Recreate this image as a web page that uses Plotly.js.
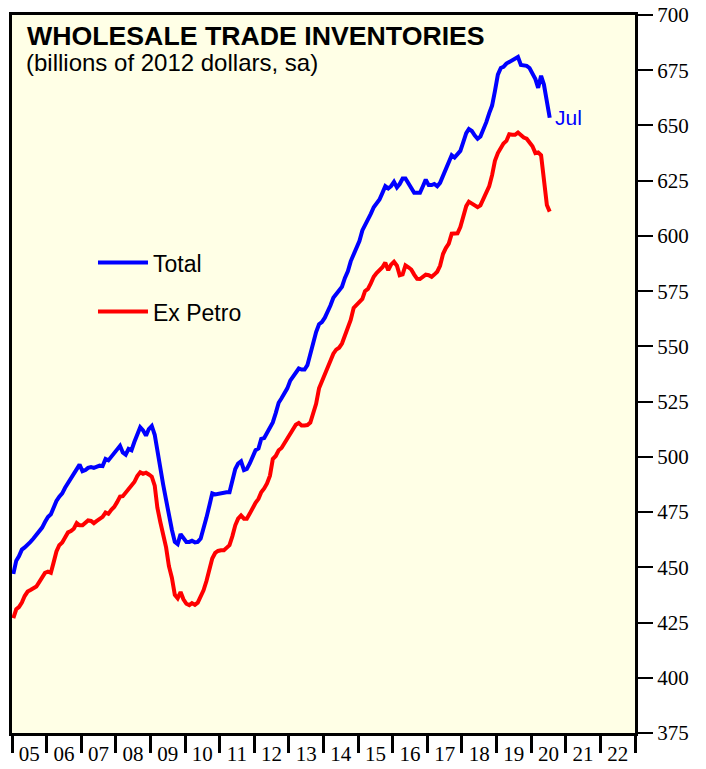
<!DOCTYPE html>
<html>
<head>
<meta charset="utf-8">
<script src="https://cdn.plot.ly/plotly-3.0.1.min.js"></script>
<style>
html,body{margin:0;padding:0;background:#fff;}
#chart{width:706px;height:769px;}
</style>
</head>
<body>
<div id="chart"></div>
<script>
// Monthly data, Jan 2005 .. Jul 2020 (billions of 2012 dollars, sa)
const startYear = 2005;
const startMonth = 1;
const totalValues = [
  447, 453, 455, 458, 459, 460, 461.5, 463, 464.5, 466, 468, 470.5,
  472.8, 474, 477, 480, 482, 483.5, 486, 488, 490.5, 492.5, 494, 496.5,
  493.5, 494, 495, 495.4, 495, 495.5, 496, 495.8, 499, 498.4, 500, 502,
  503.5, 505, 502, 501, 503.6, 503, 506.7, 510, 513.4, 512, 509.6, 512.6,
  514, 510, 502, 494, 487.5, 480.5, 473, 467, 461.5, 460.5, 465, 463,
  461.5, 461.5, 462, 461.3, 461.5, 463, 467, 472.5, 478, 483.5, 483, 483.3,
  483.5, 484, 484, 484, 489.5, 494.5, 497, 498, 494, 494.5, 497, 500.5,
  503, 503.8, 508.1, 508.5, 511, 512.8, 515.6, 519.8, 524.5, 526.5, 529, 531,
  534.5, 536.3, 537.5, 540, 539.5, 539.5, 541.5, 547, 551.5, 556.5, 560, 561,
  563, 565.5, 568.5, 572, 573.5, 575, 577, 581, 584, 588.5, 592, 595,
  597.7, 602.5, 604.8, 607, 610, 613, 614.5, 616.5, 619.5, 622.5, 621.5, 622.5,
  624.5, 622, 623.5, 626, 626, 624, 622, 619.5, 619.5, 619.5, 622.5, 625.5,
  623, 623, 623.5, 622.5, 624, 627, 630, 632.5, 636.5, 635.5, 637, 638.5,
  642.5, 646.5, 648.4, 647.5, 645.5, 644, 645, 648, 651.5, 655.5, 659, 665.5,
  673, 676, 676.5, 678, 678.7, 679.6, 680.5, 681, 677.4, 677.2, 677, 676,
  673.5, 671, 667, 672.5, 668.5, 661, 653.5
];
const exPetroValues = [
  427, 431, 432, 434, 437, 439, 439.7, 440.5, 441.3, 443.3, 445.3, 447.5,
  448, 447.5, 452, 457.2, 460, 461.2, 463.5, 465.8, 466.4, 467.5, 470, 469,
  469, 470.2, 471.2, 471, 470, 471, 472, 472.8, 474.8, 474.2, 476, 477.3,
  479.5, 482, 482.2, 483.8, 485.3, 486.6, 488.6, 491.3, 493, 492.3, 492.8, 492,
  491, 487, 477, 470.5, 465.5, 459, 450.5, 445.3, 437.5, 436, 438.8, 435.5,
  433.5, 432.9, 433.8, 433, 434, 436.5, 439.6, 443.8, 448.5, 454, 456.5, 457.4,
  457.7, 457.7, 458.8, 460, 464, 469, 472, 473.5, 472, 472, 474.3, 477,
  479.2, 481, 484, 485.7, 488, 491.5, 499, 500.4, 503, 504, 506, 508,
  510, 512, 514.5, 515.3, 514.2, 514.2, 514.4, 515.5, 519.2, 524, 531, 534,
  536.8, 540, 543, 546.7, 548.5, 549.4, 551.3, 555, 557.9, 562, 567.4, 568.9,
  570, 571.5, 575, 576, 578.5, 581.5, 583.2, 584.4, 585.8, 587.9, 584.5, 587,
  588.3, 586.5, 582.2, 582.6, 586.7, 585.8, 584.8, 582.5, 580.6, 580.5, 581.7, 582.5,
  582.2, 581.5, 582.5, 583.8, 586.5, 591.8, 594.5, 596.5, 601, 601, 601.2, 604,
  608.5, 613.5, 615.5, 614.5, 613.5, 613, 613.8, 617, 619.8, 622.4, 627.5, 634,
  637.5, 640, 641.8, 643, 646, 645.8, 645.8, 646.8, 645.5, 644.5, 644, 642.6,
  640.6, 637.5, 637.8, 636.5, 625, 614, 611
];
const seriesNames = ["Total", "Ex Petro"];
const lastLabel = "Jul";
const titleText = "WHOLESALE TRADE INVENTORIES";
const subtitleText = "(billions of 2012 dollars, sa)";
const yTickVals = [375, 400, 425, 450, 475, 500, 525, 550, 575, 600, 625, 650, 675, 700];
const xRange = ["2005-01-01", "2023-01-01"];

// month dates (mid-month) for each observation
function monthDates(n) {
  const out = [];
  for (let k = 0; k < n; k++) {
    const m0 = startMonth - 1 + k;
    const y = startYear + Math.floor(m0 / 12);
    const m = (m0 % 12) + 1;
    out.push(y + "-" + String(m).padStart(2, "0") + "-15");
  }
  return out;
}
const dates = monthDates(totalValues.length);

const sans = "Liberation Sans, Arial, sans-serif";
const serif = "Liberation Serif, Times New Roman, serif";

const traces = [
  {x: dates, y: totalValues, name: seriesNames[0], type: "scatter", mode: "lines",
   line: {color: "#0000FF", width: 4}, legendgroup: "a"},
  {x: dates, y: exPetroValues, name: seriesNames[1], type: "scatter", mode: "lines",
   line: {color: "#FF0000", width: 4}, legendgroup: "b"}
];

const layout = {
  width: 706, height: 769,
  margin: {l: 12, r: 71, t: 15, b: 36, pad: 0},
  paper_bgcolor: "#FFFFFF",
  plot_bgcolor: "#FFFFE6",
  showlegend: true,
  legend: {
    x: 0.13, xanchor: "left", y: 0.685, yanchor: "top",
    bgcolor: "rgba(0,0,0,0)", borderwidth: 0,
    font: {family: sans, size: 23, color: "#000"},
    traceorder: "grouped", tracegroupgap: 16, itemwidth: 50
  },
  title: {
    text: "<b>" + titleText + "</b>",
    font: {family: sans, size: 26.7, color: "#000"},
    xref: "container", x: 27 / 706, xanchor: "left",
    yref: "container", y: 1 - 35.5 / 769, yanchor: "middle"
  },
  annotations: [
    {text: subtitleText, xref: "paper", yref: "paper",
     x: (24 - 12) / 623, y: 1 - (62.5 - 15) / 718, xanchor: "left", yanchor: "middle",
     showarrow: false, font: {family: sans, size: 24, color: "#000"}},
    {text: lastLabel, x: dates[dates.length - 1], y: totalValues[totalValues.length - 1],
     xref: "x", yref: "y", xanchor: "left", yanchor: "middle", xshift: 3,
     showarrow: false, font: {family: sans, size: 21, color: "#0000FF"}}
  ],
  xaxis: {
    type: "date",
    range: xRange,
    dtick: "M12", tick0: "2005-01-01",
    tickformat: "%y", ticklabelmode: "period",
    ticks: "outside", ticklen: 17, tickwidth: 3, tickcolor: "#000",
    ticklabelstandoff: -17,
    tickfont: {family: serif, size: 21, color: "#000"},
    showline: true, linecolor: "#000", linewidth: 3, mirror: true,
    showgrid: false, zeroline: false, fixedrange: true
  },
  yaxis: {
    side: "right",
    range: [375, 700],
    tickvals: yTickVals,
    ticks: "outside", ticklen: 15, tickwidth: 2, tickcolor: "#000",
    tickfont: {family: serif, size: 21, color: "#000"},
    showline: true, linecolor: "#000", linewidth: 3, mirror: true,
    showgrid: false, zeroline: false, fixedrange: true
  }
};

Plotly.newPlot("chart", traces, layout, {displayModeBar: false, staticPlot: true});
</script>
</body>
</html>
